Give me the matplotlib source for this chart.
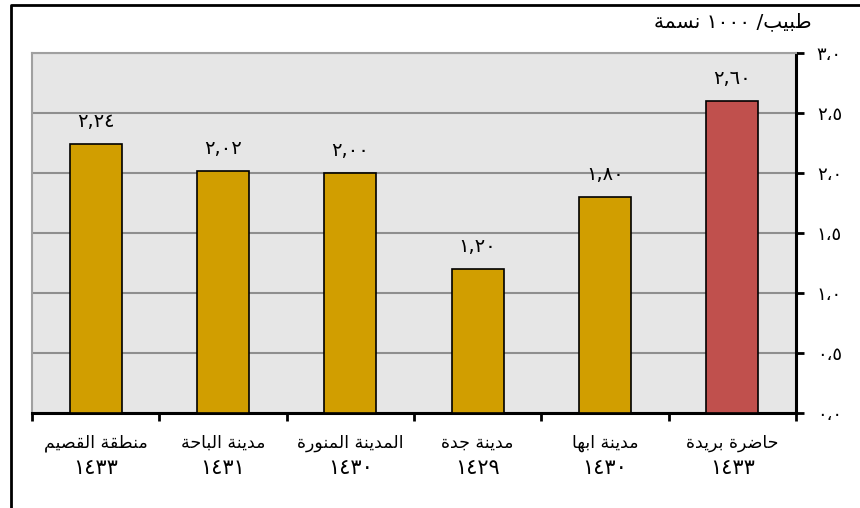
import re
import matplotlib
matplotlib.use("Agg")
import matplotlib.pyplot as plt
from matplotlib.lines import Line2D
from matplotlib.transforms import blended_transform_factory

# data
cities = ["منطقة القصيم", "مدينة الباحة", "المدينة المنورة", "مدينة جدة", "مدينة ابها", "حاضرة بريدة"]
years = ["١٤٣٣", "١٤٣١", "١٤٣٠", "١٤٢٩", "١٤٣٠", "١٤٣٣"]
values = [2.24, 2.02, 2.00, 1.20, 1.80, 2.60]
unit_label = "طبيب/ ١٠٠٠ نسمة"
yticks = [0.0, 0.5, 1.0, 1.5, 2.0, 2.5, 3.0]

# arabic presentation forms: isolated, final, initial, medial
FORMS = {
    'ا': (0xFE8D, 0xFE8E), 'ب': (0xFE8F, 0xFE90, 0xFE91, 0xFE92),
    'ة': (0xFE93, 0xFE94), 'ت': (0xFE95, 0xFE96, 0xFE97, 0xFE98),
    'ج': (0xFE9D, 0xFE9E, 0xFE9F, 0xFEA0), 'ح': (0xFEA1, 0xFEA2, 0xFEA3, 0xFEA4),
    'د': (0xFEA9, 0xFEAA), 'ر': (0xFEAD, 0xFEAE),
    'س': (0xFEB1, 0xFEB2, 0xFEB3, 0xFEB4), 'ص': (0xFEB9, 0xFEBA, 0xFEBB, 0xFEBC),
    'ض': (0xFEBD, 0xFEBE, 0xFEBF, 0xFEC0), 'ط': (0xFEC1, 0xFEC2, 0xFEC3, 0xFEC4),
    'ق': (0xFED5, 0xFED6, 0xFED7, 0xFED8), 'ل': (0xFEDD, 0xFEDE, 0xFEDF, 0xFEE0),
    'م': (0xFEE1, 0xFEE2, 0xFEE3, 0xFEE4), 'ن': (0xFEE5, 0xFEE6, 0xFEE7, 0xFEE8),
    'ه': (0xFEE9, 0xFEEA, 0xFEEB, 0xFEEC), 'و': (0xFEED, 0xFEEE),
    'ي': (0xFEF1, 0xFEF2, 0xFEF3, 0xFEF4),
}


def ar(s):
    out = []
    for i, c in enumerate(s):
        if c not in FORMS:
            out.append(c)
            continue
        f = FORMS[c]
        prev = s[i - 1] if i > 0 else ''
        nxt = s[i + 1] if i + 1 < len(s) else ''
        jp = prev in FORMS and len(FORMS[prev]) == 4
        jn = len(f) == 4 and nxt in FORMS
        k = 3 if (jp and jn) else 1 if jp else 2 if jn else 0
        out.append(chr(f[k]))
    vis = ''.join(out)[::-1]
    return re.sub(r'[0-9\u0660-\u0669,\u060c]+', lambda m: m.group(0)[::-1], vis)


DIG = str.maketrans("0123456789", "٠١٢٣٤٥٦٧٨٩")

fig = plt.figure(figsize=(8.6, 5.08), dpi=100)
ax = fig.add_axes([32 / 860, 1 - 413 / 508, 764 / 860, 360 / 508])
ax.set_facecolor('#E6E6E6')

colors = ['#D19E00'] * 5 + ['#C0504D']
x = list(range(len(values)))
ax.bar(x, values, width=0.41, color=colors, edgecolor='black', linewidth=1.2, zorder=3)

for xi, v in zip(x, values):
    ax.annotate(f"{v:.2f}".replace('.', ',').translate(DIG), (xi, v), xytext=(0, 16),
                textcoords='offset points', ha='center', va='center', fontsize=14)

ax.set_xlim(-0.5, 5.5)
ax.set_ylim(0, 3.0)
ax.set_yticks(yticks)
ax.set_yticklabels([f"{t:.1f}".replace('.', '،').translate(DIG) for t in yticks], fontsize=13)
ax.yaxis.tick_right()
ax.tick_params(axis='y', direction='out', length=6, width=2, pad=9, color='black')
ax.grid(axis='y', color='#8E8E8E', linewidth=1.5, zorder=1)

ax.set_xticks([i - 0.5 for i in range(len(values) + 1)])
ax.set_xticklabels([])
ax.tick_params(axis='x', direction='out', length=6, width=2, color='black')

for side in ['left', 'top']:
    ax.spines[side].set_color('#A0A0A0')
    ax.spines[side].set_linewidth(1.5)
for side in ['right', 'bottom']:
    ax.spines[side].set_color('black')
    ax.spines[side].set_linewidth(2.2)

tr = blended_transform_factory(ax.transData, ax.transAxes)
for xi, name, yr in zip(x, cities, years):
    ax.text(xi, -0.083, ar(name), transform=tr, ha='center', va='center', fontsize=12.5)
    ax.text(xi, -0.152, yr, transform=tr, ha='center', va='center', fontsize=15)

fig.text(812 / 860, 1 - 22 / 508, ar(unit_label), ha='right', va='center', fontsize=14.5)

# outer frame (left and top edges)
fig.add_artist(Line2D([11 / 860, 11 / 860, 1], [0, 1 - 5 / 508, 1 - 5 / 508],
                      transform=fig.transFigure, color='black', linewidth=2))

fig.savefig("out.png", dpi=100)
